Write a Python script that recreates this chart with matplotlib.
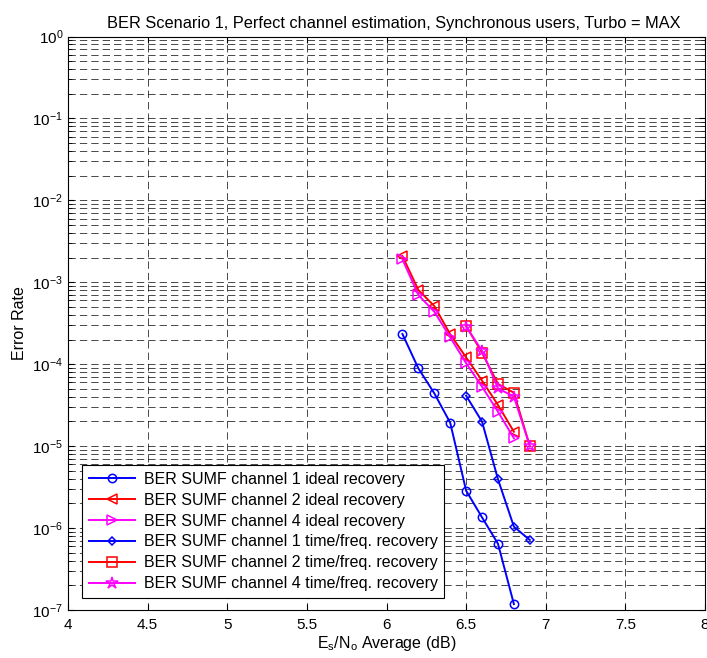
import matplotlib
matplotlib.use("Agg")
import matplotlib.pyplot as plt
from matplotlib.ticker import LogLocator, NullFormatter, MultipleLocator, FormatStrFormatter

plt.rcParams['font.family'] = ['Liberation Sans', 'DejaVu Sans']
plt.rcParams['mathtext.fontset'] = 'custom'
plt.rcParams['mathtext.rm'] = 'Liberation Sans'
plt.rcParams['mathtext.it'] = 'Liberation Sans'
plt.rcParams['lines.scale_dashes'] = False

# Es/No values (dB)
snr_ideal = [6.1, 6.2, 6.3, 6.4, 6.5, 6.6, 6.7, 6.8]
snr_tf = [6.5, 6.6, 6.7, 6.8, 6.9]

# Bit error rates
ber_ch1_ideal = [2.34e-4, 8.9e-5, 4.42e-5, 1.93e-5, 2.86e-6, 1.35e-6, 6.44e-7, 1.18e-7]
ber_ch2_ideal = [2.09e-3, 8.05e-4, 5.14e-4, 2.32e-4, 1.21e-4, 6.3e-5, 3.18e-5, 1.5e-5]
ber_ch4_ideal = [1.91e-3, 7.0e-4, 4.38e-4, 2.13e-4, 1.03e-4, 5.32e-5, 2.63e-5, 1.25e-5]
ber_ch1_tf = [4.13e-5, 1.99e-5, 3.94e-6, 1.04e-6, 7.15e-7]
ber_ch2_tf = [2.93e-4, 1.38e-4, 5.74e-5, 4.49e-5, 1.0e-5]
ber_ch4_tf = [2.87e-4, 1.46e-4, 5.08e-5, 4.02e-5, 1.0e-5]

labels = [
    'BER SUMF channel 1 ideal recovery',
    'BER SUMF channel 2 ideal recovery',
    'BER SUMF channel 4 ideal recovery',
    'BER SUMF channel 1 time/freq. recovery',
    'BER SUMF channel 2 time/freq. recovery',
    'BER SUMF channel 4 time/freq. recovery',
]

W, H = 707, 658
fig = plt.figure(figsize=(W / 100, H / 100), dpi=100)
ax_l, ax_r, ax_t, ax_b = 68, 705, 36.5, 610
ax = fig.add_axes([ax_l / W, 1 - ax_b / H, (ax_r - ax_l) / W, (ax_b - ax_t) / H])

lw = 1.4
common = dict(linewidth=lw, markerfacecolor='none', markeredgewidth=1.1)
ax.semilogy(snr_ideal, ber_ch1_ideal, '-o', color='#0000ff', markersize=6, label=labels[0], **common)
ax.semilogy(snr_ideal, ber_ch2_ideal, '-<', color='#ff0000', markersize=6.5, label=labels[1], **common)
ax.semilogy(snr_ideal, ber_ch4_ideal, '->', color='#ff00ff', markersize=6.5, label=labels[2], **common)
ax.semilogy(snr_tf, ber_ch1_tf, '-D', color='#0000ff', markersize=4.5, label=labels[3], **common)
ax.semilogy(snr_tf, ber_ch2_tf, '-s', color='#ff0000', markersize=6.5, label=labels[4], **common)
ax.semilogy(snr_tf, ber_ch4_tf, '-*', color='#ff00ff', markersize=9, label=labels[5], **common)

ax.set_xlim(4, 8)
ax.set_ylim(1e-7, 1)
ax.xaxis.set_major_locator(MultipleLocator(0.5))
ax.xaxis.set_major_formatter(FormatStrFormatter('%g'))
ax.yaxis.set_major_locator(LogLocator(base=10, numticks=20))
ax.yaxis.set_minor_locator(LogLocator(base=10, subs=range(2, 10), numticks=20))
ax.yaxis.set_minor_formatter(NullFormatter())

grid_style = dict(color='black', linestyle=(0, (5.3, 2.9)), linewidth=0.5)
ax.grid(True, which='major', axis='both', **grid_style)
ax.grid(True, which='minor', axis='y', **grid_style)
ax.set_axisbelow(True)

ax.tick_params(which='both', direction='in', top=True, right=True, labelsize=11)
ax.tick_params(which='major', length=4.5)
ax.tick_params(which='minor', length=3)
ax.tick_params(axis='x', pad=5.5)
for s in ax.spines.values():
    s.set_linewidth(0.8)

ax.set_title('BER Scenario 1, Perfect channel estimation, Synchronous users, Turbo = MAX',
             fontsize=11.8, x=0.512)
ax.set_xlabel(r'E$_\mathregular{s}$/N$_\mathregular{o}$ Average (dB)', fontsize=11.5, labelpad=2)
ax.set_ylabel('Error Rate', fontsize=11.5)

leg = ax.legend(loc='lower left', bbox_to_anchor=((82.3 - ax_l) / (ax_r - ax_l), (ax_b - 597.7) / (ax_b - ax_t)),
                borderaxespad=0, fontsize=11.5, frameon=True, fancybox=False,
                edgecolor='black', framealpha=1, borderpad=0.4,
                handlelength=2.9, handletextpad=0.55, labelspacing=0.37)
leg.get_frame().set_linewidth(0.8)

fig.savefig('out.png', dpi=100)
